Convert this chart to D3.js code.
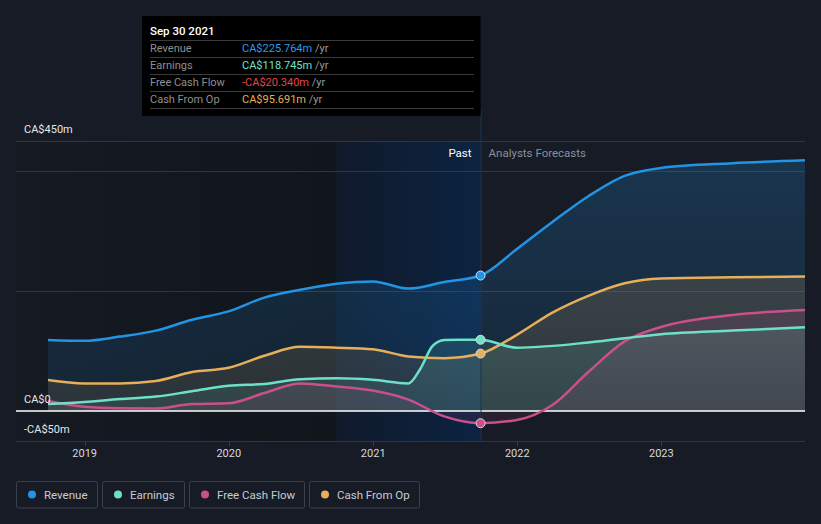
<!DOCTYPE html>
<html>
<head>
<meta charset="utf-8">
<script src="https://cdn.jsdelivr.net/npm/d3@7"></script>
<style>
html,body{margin:0;padding:0;background:#161b25;}
svg{display:block;font-family:Roboto,"Noto Sans",sans-serif;}
</style>
</head>
<body>
<svg id="chart" width="821" height="524"></svg>
<script>
// ---- data (CA$ millions) ----
const revenueDates = ["2018-09-30","2018-12-31","2019-03-31","2019-06-30","2019-09-30","2019-12-31","2020-03-31","2020-06-30","2020-09-30","2020-12-31","2021-03-31","2021-06-30","2021-09-30","2021-12-31","2022-03-31","2022-06-30","2022-09-30","2022-12-31","2023-06-30","2023-12-31"];
const revenueValues = [118.5,117,124,134,152,166,189,202,212,216,204,215,225.764,270,315,358,392,405,413,418];

const earningsDates = ["2018-09-30","2018-12-31","2019-03-31","2019-06-30","2019-09-30","2019-12-31","2020-03-31","2020-06-30","2020-09-30","2020-12-31","2021-03-31","2021-04-30","2021-05-31","2021-06-30","2021-09-30","2021-12-31","2022-06-30","2022-12-31","2023-06-30","2023-12-31"];
const earningsValues = [11.7,15,20,24,33,42,45,53,54.5,52,46,70,108,118.5,118.745,105.5,114,128,134,139.5];

const fcfDates = ["2018-09-30","2018-12-31","2019-03-31","2019-06-30","2019-09-30","2019-12-31","2020-03-31","2020-06-30","2020-09-30","2020-12-31","2021-03-31","2021-06-30","2021-09-30","2021-12-31","2022-03-31","2022-06-30","2022-09-30","2022-12-31","2023-06-30","2023-12-31"];
const fcfValues = [16.7,7,4.4,4,11.5,12.8,30,46,41,34,19,-9,-20.34,-15,10,65,116,140,160,168.5];

const cfoDates = ["2018-09-30","2018-12-31","2019-03-31","2019-06-30","2019-09-30","2019-12-31","2020-03-31","2020-06-30","2020-09-30","2020-12-31","2021-03-31","2021-06-30","2021-09-30","2021-12-31","2022-03-31","2022-06-30","2022-09-30","2022-12-31","2023-06-30","2023-12-31"];
const cfoValues = [51.7,46,46,50,65,72,92,107,105.6,103,91,88,95.691,127,164,192,213,221,223,224];

const seriesNames = ["Revenue","Earnings","Free Cash Flow","Cash From Op"];
const seriesColors = ["#2394e3","#6fe0c8","#c9508b","#e7ae5b"];
const tooltipValues = ["CA$225.764m","CA$118.745m","-CA$20.340m","CA$95.691m"];
const tooltipColors = ["#2d9be6","#6fe3cd","#e84545","#e8ae5a"];
const yTickValues = [450,0,-50];
const yTickLabels = ["CA$450m","CA$0","-CA$50m"];
const gridValues = [450,400,200,-50];
const xTickYears = [2019,2020,2021,2022,2023];

// ---- scales ----
const parse = d3.timeParse("%Y-%m-%d");
const svg = d3.select("#chart");
const x = d3.scaleTime().domain([parse("2018-09-30"), parse("2023-12-31")]).range([48, 805]);
const y = d3.scaleLinear().domain([-50, 450]).range([441, 141]);
const nowDate = parse("2021-09-30");
const bandStart = parse("2020-09-30");

const defs = svg.append("defs");

// plot backgrounds
const dg = defs.append("linearGradient").attr("id","dark").attr("x1",0).attr("x2",1).attr("y1",0).attr("y2",0);
dg.append("stop").attr("offset",0).attr("stop-color","#151a23");
dg.append("stop").attr("offset",1).attr("stop-color","#11151c");
svg.append("rect").attr("x",16).attr("y",y(450)).attr("width",x(bandStart)-16).attr("height",y(-50)-y(450)).attr("fill","url(#dark)");
const bg = defs.append("linearGradient").attr("id","band").attr("x1",0).attr("x2",1).attr("y1",0).attr("y2",0);
bg.append("stop").attr("offset",0).attr("stop-color","#101a2a");
bg.append("stop").attr("offset",1).attr("stop-color","#0c2342");
svg.append("rect").attr("x",x(bandStart)).attr("y",y(450)).attr("width",x(nowDate)-x(bandStart)).attr("height",y(-50)-y(450)).attr("fill","url(#band)");

// gridlines
svg.append("g").selectAll("line").data(gridValues).join("line")
  .attr("x1",16).attr("x2",805).attr("y1",d=>y(d)+0.5).attr("y2",d=>y(d)+0.5)
  .attr("stroke","#30353e").attr("stroke-width",1);

// x ticks
svg.append("g").selectAll("line").data(xTickYears).join("line")
  .attr("x1",d=>Math.round(x(new Date(d,0,1)))+0.5).attr("x2",d=>Math.round(x(new Date(d,0,1)))+0.5)
  .attr("y1",441).attr("y2",446).attr("stroke","#3a404a");
svg.append("g").selectAll("text").data(xTickYears).join("text")
  .attr("x",d=>x(new Date(d,0,1))).attr("y",457).attr("text-anchor","middle")
  .attr("fill","#d6d8dc").attr("font-size",11).text(d=>d);

// series
const allSeries = [
  {dates:revenueDates, values:revenueValues},
  {dates:earningsDates, values:earningsValues},
  {dates:fcfDates, values:fcfValues},
  {dates:cfoDates, values:cfoValues}
].map((s,i)=>({name:seriesNames[i], color:seriesColors[i],
  pts:s.dates.map((d,j)=>({date:parse(d), v:s.values[j]}))}));

const curve = d3.curveMonotoneX;
const area = d3.area().x(d=>x(d.date)).y0(y(0)).y1(d=>y(d.v)).curve(curve);
const line = d3.line().x(d=>x(d.date)).y(d=>y(d.v)).curve(curve);

allSeries.forEach((s,i)=>{
  const g = defs.append("linearGradient").attr("id","ag"+i).attr("gradientUnits","userSpaceOnUse")
    .attr("x1",0).attr("x2",0).attr("y1",y(450)).attr("y2",y(0));
  g.append("stop").attr("offset",0).attr("stop-color",s.color).attr("stop-opacity",0.22);
  g.append("stop").attr("offset",1).attr("stop-color",s.color).attr("stop-opacity",0.1);
});
[0,3,2,1].forEach(i=>{
  svg.append("path").datum(allSeries[i].pts).attr("d",area).attr("fill","url(#ag"+i+")");
});
// zero line
svg.append("line").attr("x1",16).attr("x2",805).attr("y1",y(0)).attr("y2",y(0)).attr("stroke","#ffffff").attr("stroke-width",1.5);

[0,3,2,1].forEach(i=>{
  svg.append("path").datum(allSeries[i].pts).attr("d",line).attr("fill","none")
    .attr("stroke",allSeries[i].color).attr("stroke-width",2.5).attr("stroke-linejoin","round");
});

// now line
svg.append("line").attr("x1",x(nowDate)+0.5).attr("x2",x(nowDate)+0.5).attr("y1",110).attr("y2",441)
  .attr("stroke","#1b3554").attr("stroke-width",1);

// markers
allSeries.forEach(s=>{
  const p = s.pts.find(d=>+d.date===+nowDate);
  svg.append("circle").attr("cx",x(p.date)).attr("cy",y(p.v)).attr("r",4.5)
    .attr("fill",s.color).attr("stroke","#d8d8d8").attr("stroke-width",1);
});

// y labels
svg.append("g").selectAll("text").data(yTickValues).join("text")
  .attr("x",24).attr("y",d=>y(d)-8).attr("fill","#e6e7ea").attr("font-size",11)
  .text((d,i)=>yTickLabels[i]);

// past / forecasts
svg.append("text").attr("x",x(nowDate)-9).attr("y",157).attr("text-anchor","end")
  .attr("fill","#ffffff").attr("font-size",11.5).text("Past");
svg.append("text").attr("x",x(nowDate)+8).attr("y",157)
  .attr("fill","#8b9099").attr("font-size",11.5).text("Analysts Forecasts");

// tooltip
const tt = svg.append("g");
tt.append("rect").attr("x",142).attr("y",16).attr("width",x(nowDate)-142).attr("height",100).attr("fill","#000");
tt.append("text").attr("x",150).attr("y",35).attr("fill","#ffffff").attr("font-size",11.5).attr("font-weight",500).text("Sep 30 2021");
[40,57,74,91,108].forEach(ly=>{
  tt.append("line").attr("x1",150).attr("x2",474).attr("y1",ly+0.5).attr("y2",ly+0.5).attr("stroke","#3a3a3a");
});
seriesNames.forEach((n,i)=>{
  const ry = 52 + i*17;
  tt.append("text").attr("x",150).attr("y",ry).attr("fill","#8f8f8f").attr("font-size",11).text(n);
  const t = tt.append("text").attr("x",242).attr("y",ry).attr("font-size",11);
  t.append("tspan").attr("fill",tooltipColors[i]).text(tooltipValues[i]);
  t.append("tspan").attr("fill","#9a9a9a").text(" /yr");
});

// legend
const legendX = [16.5,102.5,189.5,309.5];
const legendW = [81,82,115,110];
seriesNames.forEach((n,i)=>{
  const g = svg.append("g").attr("transform",`translate(${legendX[i]},481.5)`);
  g.append("rect").attr("width",legendW[i]).attr("height",26.5).attr("rx",2)
    .attr("fill","none").attr("stroke","#3b414b");
  g.append("circle").attr("cx",15.5).attr("cy",13).attr("r",4).attr("fill",seriesColors[i]);
  g.append("text").attr("x",27.5).attr("y",17).attr("fill","#c9cbd0").attr("font-size",11.5).text(n);
});
</script>
</body>
</html>
